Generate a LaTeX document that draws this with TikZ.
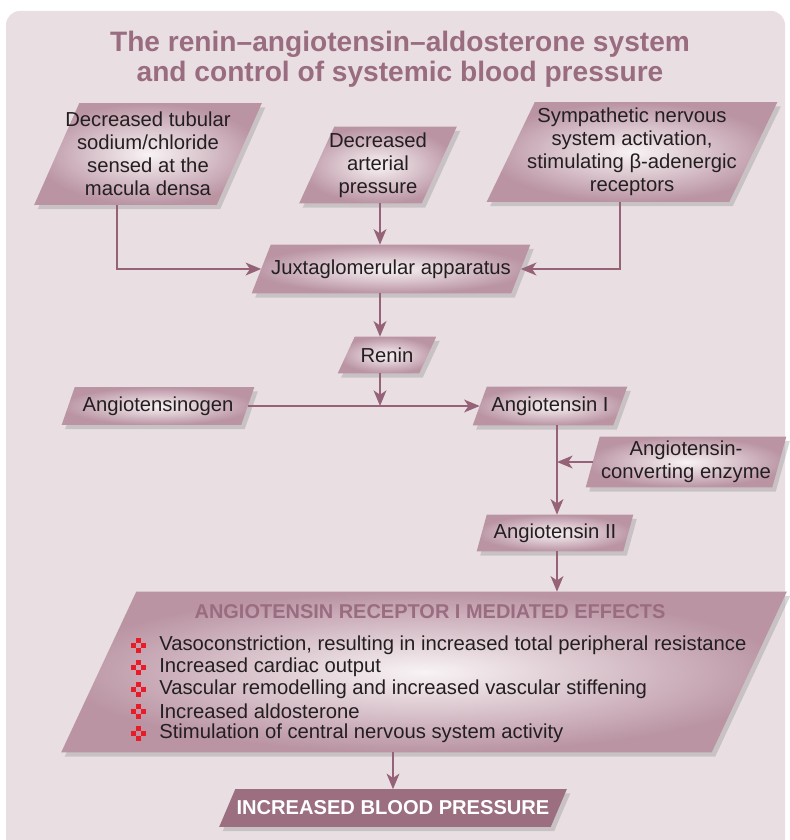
\documentclass[tikz,border=0pt]{standalone}
\usepackage{fontspec}
\setmainfont{Liberation Sans}
\usetikzlibrary{shadows}
\usetikzlibrary{arrows.meta}

\definecolor{bgpink}{RGB}{233,223,226}
\definecolor{titlemauve}{RGB}{154,108,128}
\definecolor{boxin}{RGB}{248,243,245}
\definecolor{boxout}{RGB}{186,148,163}
\definecolor{arrowmauve}{RGB}{150,98,120}
\definecolor{bpfill}{RGB}{155,110,128}
\definecolor{crossred}{RGB}{232,28,40}
\definecolor{textdark}{RGB}{35,31,32}

\pgfdeclarelayer{backdrop}
\pgfdeclarelayer{shapes}
\pgfsetlayers{backdrop,shapes,main}

\tikzset{
  para/.style={rectangle, inner sep=0pt, align=center, text=textdark,
    font=\fontsize{14.4}{16.4}\selectfont},
  parafill/.style={inner color=boxin, outer color=boxout,
    drop shadow={shadow xshift=2.5pt, shadow yshift=-3pt, opacity=0.3}},
  bpfillstyle/.style={fill=bpfill,
    drop shadow={shadow xshift=2.5pt, shadow yshift=-3pt, opacity=0.3}},
  flow/.style={draw=arrowmauve, line width=1.8pt,
    -{Stealth[length=11pt, width=9pt, inset=3pt]}},
  redcross/.style={fill=crossred},
}

% slanted box behind a node: #1 style, #2 node, #3 slant offset (px)
\newcommand{\slantbox}[3]{%
  \path[#1] ([xshift=-#3*0.0125cm]#2.south west) -- ([xshift=-#3*0.0125cm]#2.south east)
    -- ([xshift=#3*0.0125cm]#2.north east) -- ([xshift=#3*0.0125cm]#2.north west) -- cycle;}

\begin{document}
\begin{tikzpicture}[x=0.025cm, y=-0.025cm]
                \useasboundingbox (0,0) rectangle (789,840);
                % Background
                \begin{pgfonlayer}{backdrop}
                    \fill[white] (0,0) rectangle (789,840);
                    \fill[bgpink, rounded corners=0.35cm] (6,11) rectangle (785,870);
                \end{pgfonlayer}

                % Title
                \node[text=titlemauve, font=\fontsize{20}{21.5}\bfseries\selectfont, align=center] (title) at (400,59)
                    {The renin--angiotensin--aldosterone system\\and control of systemic blood pressure};

                % Triggers
                \node[para, minimum width=182*0.025cm, minimum height=101*0.025cm] (macula) at (148,154)
                    {Decreased tubular\\sodium/chloride\\sensed at the\\macula densa};
                \node[para, minimum width=122*0.025cm, minimum height=76*0.025cm] (arterial) at (378,165)
                    {Decreased\\arterial\\pressure};
                \node[para, minimum width=242*0.025cm, minimum height=99*0.025cm] (sympath) at (632,152)
                    {Sympathetic nervous\\system activation,\\stimulating β-adenergic\\receptors};
                \node[para, minimum width=259*0.025cm, minimum height=48*0.025cm] (juxta) at (391,269)
                    {Juxtaglomerular apparatus};

                % Cascade
                \node[para, minimum width=81*0.025cm, minimum height=36*0.025cm] (renin) at (387,355) {Renin};
                \node[para, minimum width=179*0.025cm, minimum height=37*0.025cm] (angen) at (158,406) {Angiotensinogen};
                \node[para, minimum width=140*0.025cm, minimum height=38*0.025cm] (angone) at (550,406) {Angiotensin I};
                \node[para, minimum width=186*0.025cm, minimum height=50*0.025cm] (ace) at (686,462)
                    {Angiotensin-\\converting enzyme};
                \node[para, minimum width=146*0.025cm, minimum height=36*0.025cm] (angtwo) at (555,533) {Angiotensin II};

                % Effects
                \node[para, minimum width=650*0.025cm, minimum height=160*0.025cm] (effects) at (424,672) {};
                \node[text=titlemauve, font=\fontsize{14.2}{16}\bfseries\selectfont] (effhead) at (430,612)
                    {ANGIOTENSIN RECEPTOR I MEDIATED EFFECTS};
                \foreach \txt [count=\i from 0] in {
                    {Vasoconstriction, resulting in increased total peripheral resistance},
                    {Increased cardiac output},
                    {Vascular remodelling and increased vascular stiffening},
                    {Increased aldosterone},
                    {Stimulation of central nervous system activity}} {
                    \fill[redcross] (138-2.5,645+22*\i-7.5) rectangle (138+2.5,645+22*\i-2.5);
                    \fill[redcross] (138-2.5,645+22*\i+2.5) rectangle (138+2.5,645+22*\i+7.5);
                    \fill[redcross] (138-7.5,645+22*\i-2.5) rectangle (138-2.5,645+22*\i+2.5);
                    \fill[redcross] (138+2.5,645+22*\i-2.5) rectangle (138+7.5,645+22*\i+2.5);
                    \node[anchor=west, text=textdark, inner sep=0pt, font=\fontsize{14.4}{16}\selectfont]
                        (item\i) at (159,645+22*\i) {\txt};
                }

                \node[para, text=white, font=\fontsize{14.3}{16}\bfseries\selectfont,
                    minimum width=331*0.025cm, minimum height=37*0.025cm] (bp) at (393,808)
                    {INCREASED BLOOD PRESSURE};

                % Slanted boxes
                \begin{pgfonlayer}{shapes}
                    \foreach \nm/\off in {macula/45, arterial/35, sympath/48, juxta/19, renin/17,
                        angen/13, angone/14, ace/14, angtwo/10, effects/75}
                        \slantbox{parafill}{\nm}{\off};
                    \slantbox{bpfillstyle}{bp}{16}
                \end{pgfonlayer}

                % Column guides
                \coordinate (macx) at (117,0);
                \coordinate (symx) at (620,0);
                \coordinate (mainx) at (380,0);
                \coordinate (acex) at (557,0);

                % Arrows
                \draw[flow] (macula.south -| macx) |- (juxta.west);
                \draw[flow] (sympath.south -| symx) |- (juxta.east);
                \draw[flow] (arterial.south -| mainx) -- (juxta.north -| mainx);
                \draw[flow] (juxta.south -| mainx) -- (renin.north -| mainx);
                \draw[flow] (renin.south -| mainx) -- (angen.east -| mainx);
                \draw[flow] (angen.east) -- (angone.west);
                \draw[flow] (angone.south -| acex) -- (angtwo.north -| acex);
                \draw[flow] (ace.west) -- (ace.west -| acex);
                \draw[flow] (angtwo.south -| acex) -- (effects.north -| acex);
                \draw[flow] (effects.south -| bp.north) -- (bp.north);
            \end{tikzpicture}
\end{document}
